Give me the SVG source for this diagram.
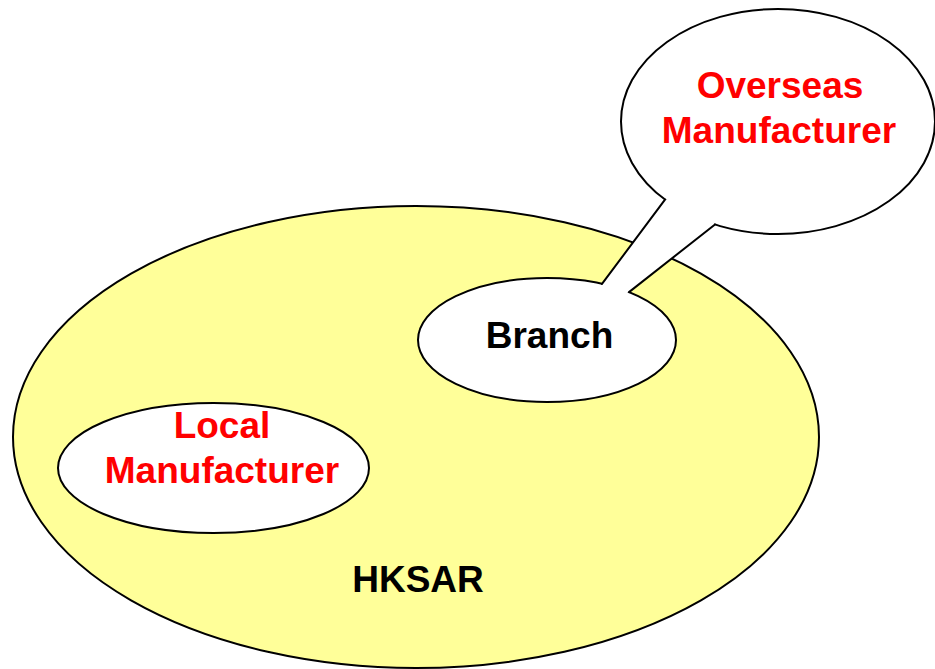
<svg xmlns="http://www.w3.org/2000/svg" width="935" height="669" viewBox="0 0 935 669">
  <style>
    .shape { stroke: #000; stroke-width: 2; }
    .region { fill: #FFFF99; }
    .bubble { fill: #FFFFFF; }
    .label { font-family: "Liberation Sans", Arial, sans-serif; font-weight: bold; font-size: 37px; text-anchor: middle; }
    .red { fill: #FF0000; }
    .black { fill: #000000; }
    .tail-edge { stroke: #000; stroke-width: 2; stroke-linecap: round; fill: none; }
  </style>
  <rect width="935" height="669" fill="#FFFFFF"/>

  <!-- Territory -->
  <g id="hksar">
    <ellipse class="shape region" cx="416" cy="437" rx="403" ry="231"/>
    <text class="label black" x="418" y="592">HKSAR</text>
  </g>

  <!-- Manufacturer located in the territory -->
  <g id="local-manufacturer">
    <ellipse class="shape bubble" cx="213.5" cy="468" rx="155.5" ry="65"/>
    <text class="label red" x="222" y="438">Local</text>
    <text class="label red" x="222" y="483">Manufacturer</text>
  </g>

  <!-- Branch office -->
  <g id="branch">
    <ellipse class="shape bubble" cx="547" cy="340" rx="129" ry="62"/>
  </g>

  <!-- Manufacturer outside the territory -->
  <g id="overseas-manufacturer">
    <ellipse class="shape bubble" cx="778" cy="121.5" rx="157" ry="112.5"/>
  </g>

  <!-- Callout tail joining the overseas manufacturer to its branch -->
  <g id="connectors">
    <polygon fill="#FFFFFF" points="602,283.9 665,199.6 700,200 715,224.5 629,292.1 610,300"/>
    <line class="tail-edge" x1="602" y1="283.9" x2="665" y2="199.6"/>
    <line class="tail-edge" x1="715" y1="224.5" x2="629" y2="292.1"/>
  </g>

  <g id="labels">
    <text class="label black" x="549.5" y="348">Branch</text>
    <text class="label red" x="780" y="98">Overseas</text>
    <text class="label red" x="779" y="143">Manufacturer</text>
  </g>
</svg>
